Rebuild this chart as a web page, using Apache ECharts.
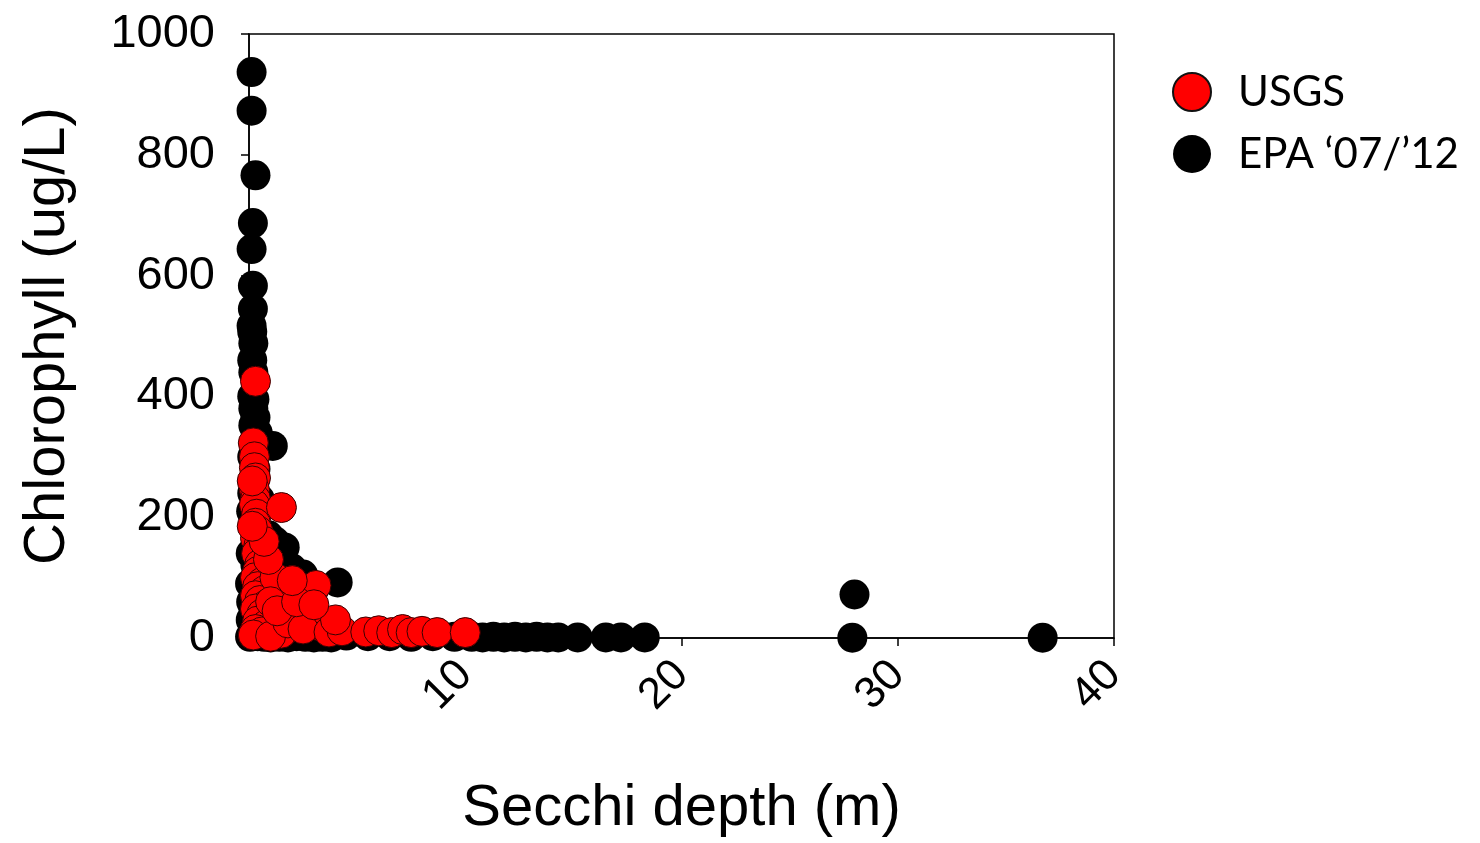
<!DOCTYPE html>
<html>
<head>
<meta charset="utf-8">
<title>Chlorophyll vs Secchi depth</title>
<script src="https://cdn.jsdelivr.net/npm/echarts@6/dist/echarts.min.js"></script>
<style>
  html, body { margin: 0; padding: 0; background: #fff; }
  #chart { width: 1480px; height: 843px; }
</style>
</head>
<body>
<div id="chart"></div>
<script>
// Axis ticks
const xTicks = [0, 10, 20, 30, 40];
const yTicks = [0, 200, 400, 600, 800, 1000];

// Series names
const seriesNames = ['USGS', 'EPA \u201807/\u201912'];

// EPA 2007/2012 survey: Secchi depth (m) and chlorophyll (ug/L)
const epaSecchi = [
  0.12, 0.12, 0.30, 0.18, 0.12, 0.18, 0.18, 0.12, 0.15, 0.20,
  0.15, 0.20, 0.15, 0.20, 0.30, 0.20, 0.40, 1.10, 0.15, 0.30,
  0.25, 0.15, 0.50, 0.20, 0.30, 1.65, 1.20, 0.90, 2.50, 2.00,
  1.50, 4.10, 3.00, 0.30, 0.60, 0.20, 0.40, 0.80, 0.20, 1.20,
  0.50, 2.00, 0.15, 0.80, 1.50, 0.30, 2.50, 0.60, 3.50, 1.00,
  4.50, 5.50, 6.50, 7.50, 8.50, 9.50, 10.3, 10.8, 11.3, 11.8,
  12.3, 12.8, 13.3, 13.8, 14.3, 15.2, 16.5, 17.2, 18.3, 28.0,
  27.9, 36.7, 0.05, 0.08, 0.10, 0.05, 0.08, 0.10, 0.40, 0.70,
  1.00, 1.40, 1.80, 2.20, 2.60, 3.00, 3.40, 3.80, 0.25, 0.35
];
const epaChl = [
  937, 873, 766, 687, 644, 583, 545, 517, 507, 488,
  460, 440, 400, 380, 365, 352, 340, 318, 300, 280,
  260, 240, 230, 200, 180, 150, 160, 170, 105, 115,
  130, 92, 80, 120, 100, 90, 70, 60, 50, 40,
  35, 30, 25, 20, 15, 12, 10, 8, 6, 5,
  4, 3, 3, 2, 3, 2, 2, 1, 2, 1,
  2, 1, 2, 1, 1, 1, 1, 1, 1, 72,
  0.5, 0.5, 2, 30, 60, 90, 140, 210, 3, 2,
  1, 2, 1, 3, 2, 1, 2, 1, 395, 330
];

// USGS survey: Secchi depth (m) and chlorophyll (ug/L)
const usgsSecchi = [
  0.30, 0.20, 0.25, 0.25, 0.30, 0.25, 0.30, 0.25, 0.35, 0.30,
  0.40, 0.30, 0.45, 0.35, 0.50, 0.40, 0.30, 0.60, 0.40, 0.70,
  0.30, 0.50, 0.80, 0.30, 0.60, 1.00, 0.40, 0.80, 1.20, 0.30,
  0.60, 1.50, 0.20, 1.00, 1.50, 3.10, 2.40, 1.60, 2.00, 2.80,
  1.80, 3.30, 2.50, 3.70, 4.30, 5.40, 6.00, 6.60, 7.10, 7.50,
  8.00, 8.70, 10.0, 1.20, 0.90, 0.70, 1.00, 1.30, 2.20, 4.00,
  0.15, 0.15, 3.00, 2.00
];
const usgsChl = [
  425, 323, 300, 282, 265, 246, 230, 221, 205, 190,
  178, 165, 152, 140, 122, 110, 100, 92, 85, 78,
  70, 62, 55, 48, 40, 35, 28, 22, 18, 14,
  10, 8, 5, 3, 216, 87, 48, 70, 40, 30,
  25, 20, 15, 10, 12, 10, 12, 9, 14, 9,
  11, 9, 9, 100, 130, 160, 60, 45, 60, 30,
  185, 260, 55, 95
];

const zip = (xs, ys) => xs.map((x, i) => [x, ys[i]]);

const chart = echarts.init(document.getElementById('chart'));
const axisFont = 'Liberation Sans, Arial, sans-serif';

chart.setOption({
  animation: false,
  backgroundColor: '#fff',
  grid: {
    left: 249, right: 366, top: 34, bottom: 202,
    show: true, borderColor: '#000', borderWidth: 1.5, backgroundColor: 'transparent'
  },
  legend: {
    orient: 'vertical',
    left: 1167, top: 66,
    itemWidth: 42, itemHeight: 38, itemGap: 20,
    data: [
      { name: seriesNames[0], icon: 'circle', itemStyle: { color: '#ff0000', borderColor: '#111', borderWidth: 2 } },
      { name: seriesNames[1], icon: 'circle', itemStyle: { color: '#000', borderColor: '#000', borderWidth: 0 } }
    ],
    textStyle: { fontFamily: 'Lato, sans-serif', fontSize: 42, color: '#000', padding: [0, 0, 0, 20] }
  },
  xAxis: {
    type: 'value',
    min: xTicks[0], max: xTicks[xTicks.length - 1], interval: 10,
    name: 'Secchi depth (m)',
    nameLocation: 'middle', nameGap: 142,
    nameTextStyle: { fontFamily: axisFont, fontSize: 58, color: '#000' },
    axisLine: { onZero: false, lineStyle: { color: '#000', width: 1.5 } },
    axisTick: { show: true, inside: false, length: 8, lineStyle: { color: '#000', width: 1.5 } },
    axisLabel: {
      rotate: 45, margin: 30,
      fontFamily: axisFont, fontSize: 44, color: '#000',
      formatter: v => (v === 0 ? '' : String(v))
    },
    splitLine: { show: false }
  },
  yAxis: {
    type: 'value',
    min: yTicks[0], max: yTicks[yTicks.length - 1], interval: 200,
    name: 'Chlorophyll (ug/L)',
    nameLocation: 'middle', nameGap: 172,
    nameTextStyle: { fontFamily: axisFont, fontSize: 58, color: '#000' },
    axisLine: { onZero: false, lineStyle: { color: '#000', width: 1.5 } },
    axisTick: { show: true, inside: false, length: 8, lineStyle: { color: '#000', width: 1.5 } },
    axisLabel: {
      margin: 34, fontFamily: axisFont, fontSize: 47, color: '#000',
      formatter: v => String(v)
    },
    splitLine: { show: false }
  },
  series: [
    {
      name: seriesNames[1],
      type: 'scatter',
      clip: false,
      symbol: 'circle',
      symbolSize: 30,
      itemStyle: { color: '#000', opacity: 1 },
      data: zip(epaSecchi, epaChl)
    },
    {
      name: seriesNames[0],
      type: 'scatter',
      clip: false,
      symbol: 'circle',
      symbolSize: 30,
      itemStyle: { color: '#ff0000', borderColor: '#3a0000', borderWidth: 1, opacity: 1 },
      data: zip(usgsSecchi, usgsChl)
    }
  ]
});
</script>
</body>
</html>
